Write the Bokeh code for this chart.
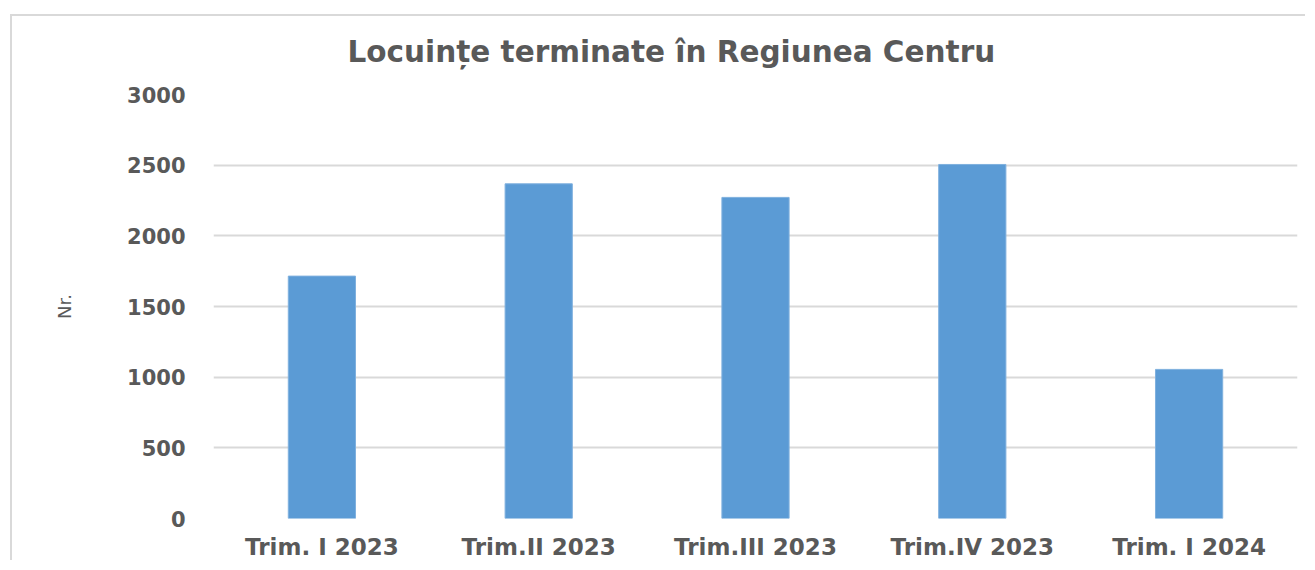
from bokeh.plotting import figure
from bokeh.models import Range1d, FactorRange, ColumnDataSource, Title, FixedTicker
from bokeh.embed import file_html
from bokeh.resources import INLINE

categories = ["Trim. I 2023", "Trim.II 2023", "Trim.III 2023", "Trim.IV 2023", "Trim. I 2024"]
values = [1715, 2368, 2272, 2505, 1055]
y_ticks = [0, 500, 1000, 1500, 2000, 2500, 3000]
title_text = "Locuințe terminate în Regiunea Centru"

TEXT = "#595959"
FONT = "DejaVu Sans"

src = ColumnDataSource(dict(cat=categories, val=values))

p = figure(
    x_range=FactorRange(*categories),
    y_range=Range1d(0, 3000),
    width=1295, height=546,
    output_backend="svg", toolbar_location=None,
    min_border_left=201, min_border_right=10,
    min_border_top=78, min_border_bottom=44,
    margin=(14, 0, 0, 10),
    styles={"border-left": "2px solid #d9d9d9", "border-top": "2px solid #d9d9d9"},
)
p.title = None

# invisible spacer panel between the frame and the title
spacer = Title(text="\u00a0", text_font_size="1px", text_color="white", standoff=23)
p.add_layout(spacer, "above")
t = Title(text=title_text, align="left", offset=134, vertical_align="bottom",
          text_font=FONT, text_font_size="29.5px", text_font_style="bold",
          text_color=TEXT, standoff=0)
p.add_layout(t, "above")

p.vbar(x="cat", top="val", width=0.31, source=src,
       fill_color="#5B9BD5", line_color="#7FB0DE", line_width=1)

p.outline_line_color = None
p.xgrid.grid_line_color = None
p.ygrid.grid_line_color = "#D9D9D9"
p.ygrid.grid_line_width = 2

p.yaxis.ticker = FixedTicker(ticks=y_ticks)
p.yaxis.axis_line_color = None
p.yaxis.major_tick_line_color = None
p.yaxis.minor_tick_line_color = None
p.yaxis.major_label_standoff = 22
p.yaxis.major_label_text_font = FONT
p.yaxis.major_label_text_font_style = "bold"
p.yaxis.major_label_text_font_size = "21px"
p.yaxis.major_label_text_color = TEXT
p.yaxis.axis_label = "Nr."
p.yaxis.axis_label_text_font = FONT
p.yaxis.axis_label_text_font_style = "normal"
p.yaxis.axis_label_text_font_size = "18px"
p.yaxis.axis_label_text_color = TEXT
p.yaxis.axis_label_standoff = 49

p.xaxis.axis_line_color = None
p.xaxis.major_tick_line_color = None
p.xaxis.minor_tick_line_color = None
p.xaxis.major_label_standoff = 9
p.xaxis.major_label_text_font = FONT
p.xaxis.major_label_text_font_style = "bold"
p.xaxis.major_label_text_font_size = "23px"
p.xaxis.major_label_text_color = TEXT

open("out.html", "w").write(file_html(p, INLINE))
